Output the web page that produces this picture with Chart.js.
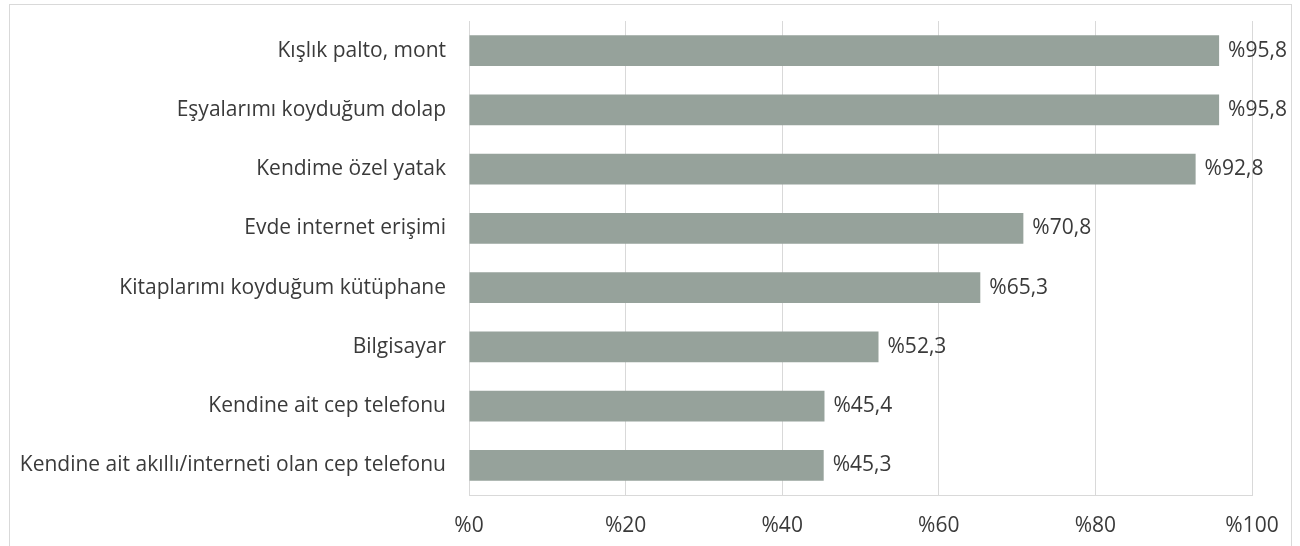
<!DOCTYPE html>
<html>
<head>
<meta charset="utf-8">
<script src="https://cdn.jsdelivr.net/npm/chart.js@4/dist/chart.umd.min.js"></script>
<style>
  html, body { margin: 0; padding: 0; background: #fff; overflow: hidden; }
  #wrap { position: relative; width: 1300px; height: 546px; }
  #frame { position: absolute; left: 9px; top: 4px; width: 1283px; height: 600px; border: 1px solid #d9d9d9; box-sizing: border-box; }
  canvas { position: absolute; left: 0; top: 0; }
</style>
</head>
<body>
<div id="wrap">
  <div id="frame"></div>
  <canvas id="c" width="1300" height="546"></canvas>
</div>
<script>
const categories = [
  "Kışlık palto, mont",
  "Eşyalarımı koyduğum dolap",
  "Kendime özel yatak",
  "Evde internet erişimi",
  "Kitaplarımı koyduğum kütüphane",
  "Bilgisayar",
  "Kendine ait cep telefonu",
  "Kendine ait akıllı/interneti olan cep telefonu"
];
const values = [95.8, 95.8, 92.8, 70.8, 65.3, 52.3, 45.4, 45.3];
const tickValues = [0, 20, 40, 60, 80, 100];

const FONT = "'Open Sans', sans-serif";
const FSIZE = 21;
const TEXT = "#3a3a3a";

const valueLabels = {
  id: 'valueLabels',
  afterDatasetsDraw(chart) {
    const ctx = chart.ctx;
    const meta = chart.getDatasetMeta(0);
    ctx.save();
    ctx.font = FSIZE + "px " + FONT;
    ctx.fillStyle = TEXT;
    ctx.textAlign = 'left';
    ctx.textBaseline = 'middle';
    meta.data.forEach((bar, i) => {
      const v = values[i].toFixed(1).replace('.', ',');
      ctx.fillText('%' + v, bar.x + 9, bar.y);
    });
    ctx.restore();
  }
};

new Chart(document.getElementById('c'), {
  type: 'bar',
  data: {
    labels: categories,
    datasets: [{
      data: values,
      backgroundColor: '#96a29b',
      borderWidth: 0,
      categoryPercentage: 0.52,
      barPercentage: 1.0
    }]
  },
  options: {
    indexAxis: 'y',
    responsive: false,
    animation: false,
    layout: { padding: { top: 21, right: 48, left: 10, bottom: 0 } },
    plugins: { legend: { display: false }, tooltip: { enabled: false } },
    scales: {
      x: {
        min: 0, max: 100,
        afterBuildTicks(scale) { scale.ticks = tickValues.map(v => ({ value: v })); },
        afterFit(scale) { scale.height = 51; scale.paddingLeft = 0; scale.paddingRight = 0; },
        grid: { color: '#d9d9d9', lineWidth: 1, drawTicks: false },
        border: { color: '#d9d9d9', width: 1 },
        ticks: {
          padding: 18,
          color: TEXT,
          font: { family: FONT, size: FSIZE },
          callback: (v) => '%' + v
        }
      },
      y: {
        afterFit(scale) { scale.width = 459; scale.paddingTop = 0; scale.paddingBottom = 0; },
        grid: { display: false, drawTicks: false },
        border: { color: '#d9d9d9', width: 1 },
        ticks: {
          padding: 23,
          color: TEXT,
          font: { family: FONT, size: FSIZE }
        }
      }
    }
  },
  plugins: [valueLabels]
});
</script>
</body>
</html>
